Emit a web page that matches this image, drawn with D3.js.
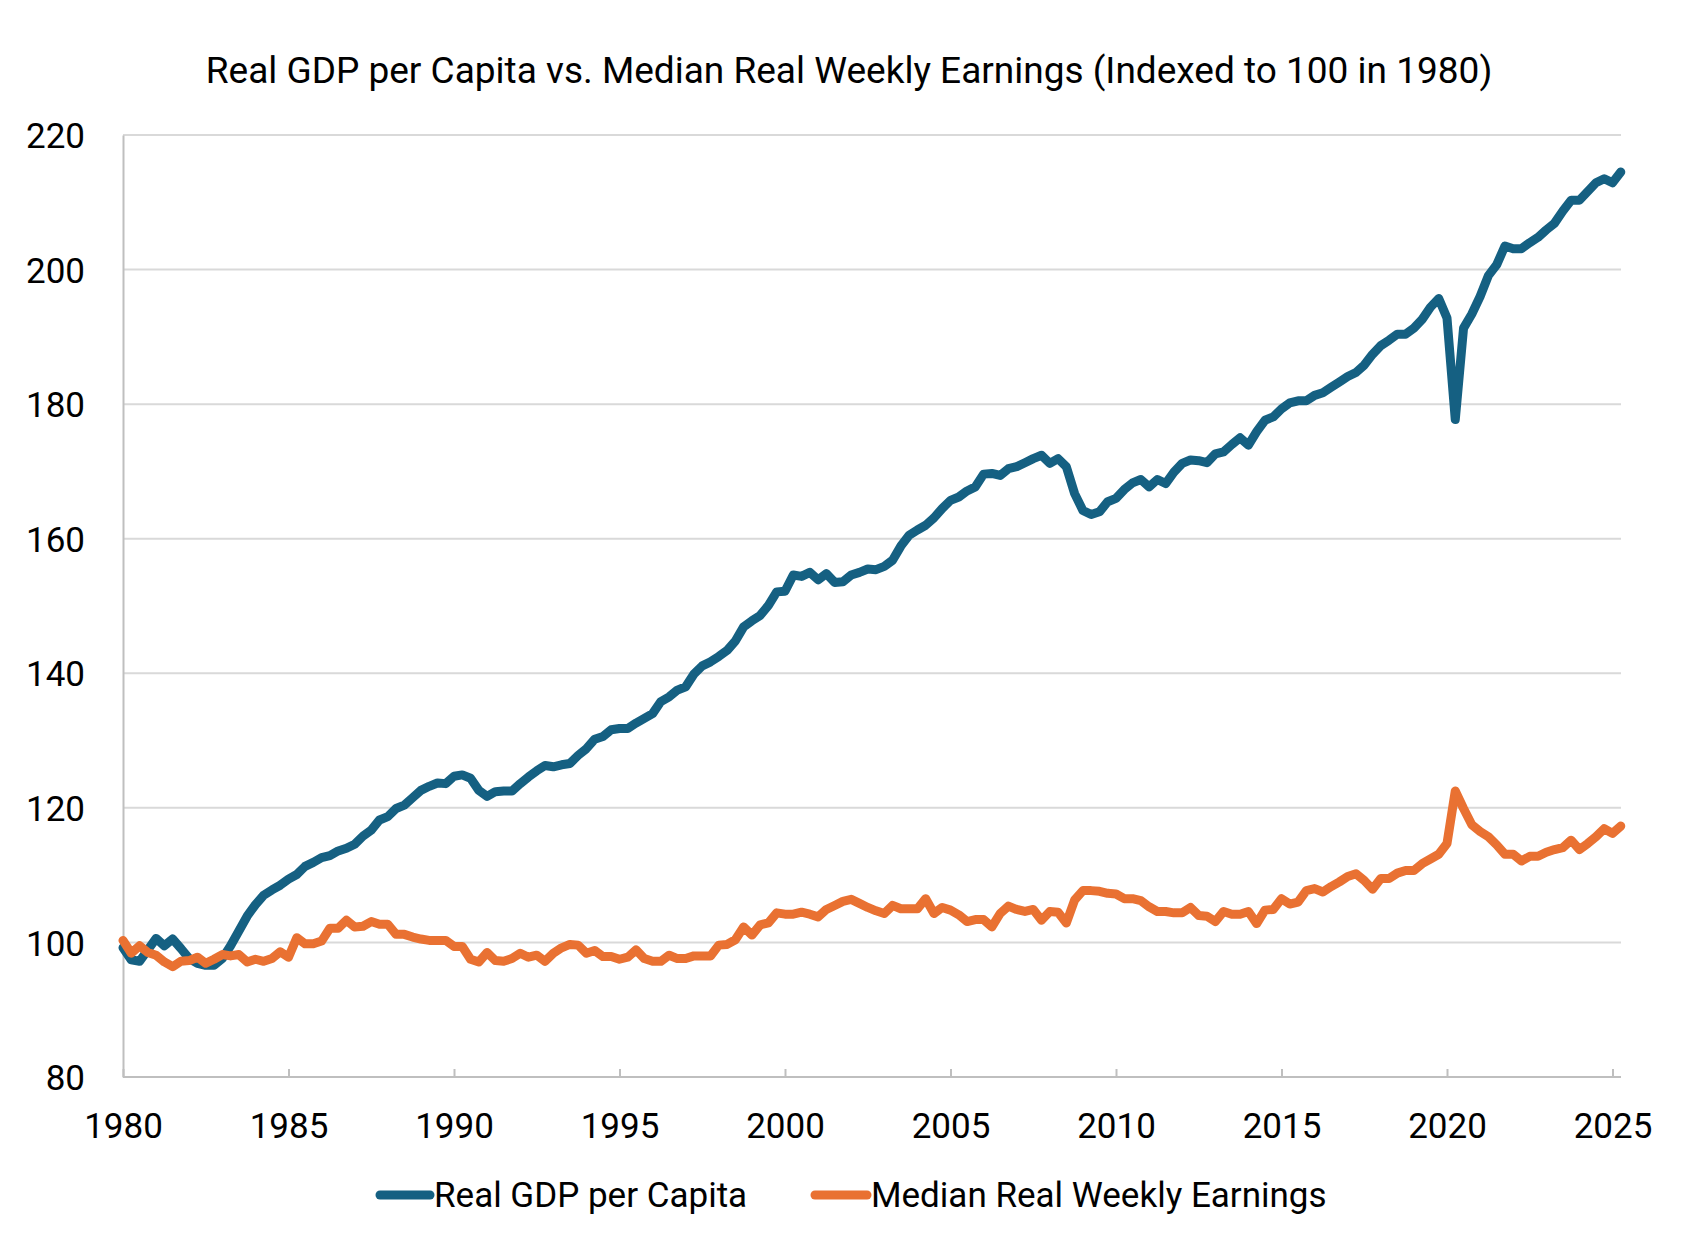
<!DOCTYPE html>
<html>
<head>
<meta charset="utf-8">
<script src="https://cdnjs.cloudflare.com/ajax/libs/d3/7.8.5/d3.min.js"></script>
<style>
  body { margin: 0; background: #fff; }
  text { font-family: Roboto, "Liberation Sans", sans-serif; fill: #000; }
</style>
</head>
<body>
<div id="chart"></div>
<script>
// quarterly values, 1980 Q1 .. 2025 Q2, index 1980 = 100
var startYear = 1980;

var gdpPerCapita = [
  99.2, 97.4, 97.2, 98.9, 100.6, 99.5, 100.5, 99.1, 97.6, 96.9,
  96.6, 96.6, 97.6, 99.5, 101.7, 103.9, 105.6, 107.0, 107.8, 108.5,
  109.4, 110.1, 111.3, 111.9, 112.6, 112.9, 113.6, 114.0, 114.6, 115.8,
  116.7, 118.2, 118.7, 119.9, 120.4, 121.5, 122.6, 123.2, 123.7, 123.6,
  124.7, 124.9, 124.4, 122.6, 121.7, 122.4, 122.5, 122.5, 123.6, 124.6,
  125.5, 126.3, 126.1, 126.4, 126.6, 127.8, 128.8, 130.2, 130.6, 131.6,
  131.8, 131.8, 132.6, 133.3, 134.0, 135.8, 136.5, 137.5, 138.0, 139.9,
  141.1, 141.7, 142.5, 143.4, 144.8, 146.9, 147.8, 148.6, 150.1, 152.1,
  152.2, 154.6, 154.4, 155.0, 153.9, 154.8, 153.5, 153.6, 154.6, 155.0,
  155.5, 155.4, 155.9, 156.8, 158.9, 160.5, 161.3, 162.0, 163.1, 164.5,
  165.7, 166.2, 167.1, 167.7, 169.6, 169.7, 169.4, 170.4, 170.7, 171.3,
  171.9, 172.4, 171.2, 171.9, 170.7, 166.7, 164.2, 163.6, 164.0, 165.5,
  166.0, 167.3, 168.3, 168.8, 167.7, 168.8, 168.2, 169.9, 171.2, 171.7,
  171.6, 171.3, 172.6, 172.9, 174.0, 175.0, 173.9, 175.9, 177.6, 178.1,
  179.3, 180.2, 180.5, 180.5, 181.3, 181.7, 182.5, 183.3, 184.1, 184.7,
  185.8, 187.4, 188.7, 189.5, 190.4, 190.4, 191.3, 192.6, 194.4, 195.7,
  192.8, 177.7, 191.3, 193.4, 196.0, 199.1, 200.7, 203.5, 203.1, 203.1,
  204.0, 204.8, 205.9, 206.9, 208.7, 210.3, 210.3, 211.6, 212.9, 213.5,
  212.9, 214.5
];

var medianEarnings = [
  100.3, 98.4, 99.5, 98.5, 98.1, 97.1, 96.4, 97.2, 97.3, 97.8,
  96.9, 97.5, 98.2, 98.0, 98.2, 97.1, 97.5, 97.2, 97.6, 98.6,
  97.8, 100.7, 99.8, 99.8, 100.2, 102.1, 102.1, 103.3, 102.3, 102.4,
  103.1, 102.7, 102.7, 101.2, 101.2, 100.8, 100.5, 100.3, 100.3, 100.3,
  99.4, 99.4, 97.5, 97.1, 98.5, 97.3, 97.2, 97.6, 98.4, 97.8,
  98.1, 97.2, 98.4, 99.2, 99.7, 99.6, 98.4, 98.8, 97.9, 97.9,
  97.5, 97.8, 98.9, 97.6, 97.2, 97.2, 98.1, 97.6, 97.6, 98.0,
  98.0, 98.0, 99.6, 99.7, 100.4, 102.3, 101.1, 102.6, 102.9, 104.4,
  104.2, 104.2, 104.5, 104.2, 103.8, 104.9, 105.5, 106.1, 106.4, 105.8,
  105.2, 104.7, 104.3, 105.5, 105.0, 105.0, 105.0, 106.5, 104.3, 105.2,
  104.8, 104.1, 103.1, 103.4, 103.4, 102.3, 104.3, 105.4, 104.9, 104.6,
  104.9, 103.3, 104.6, 104.5, 102.9, 106.3, 107.7, 107.7, 107.6, 107.3,
  107.2, 106.5, 106.5, 106.2, 105.3, 104.6, 104.6, 104.4, 104.4, 105.2,
  104.0, 103.9, 103.1, 104.6, 104.2, 104.2, 104.6, 102.8, 104.8, 104.9,
  106.5, 105.7, 106.0, 107.7, 108.0, 107.5, 108.3, 109.0, 109.8, 110.2,
  109.2, 107.9, 109.5, 109.5, 110.3, 110.7, 110.7, 111.7, 112.4, 113.1,
  114.7, 122.5, 119.9, 117.5, 116.5, 115.7, 114.5, 113.1, 113.1, 112.1,
  112.8, 112.8, 113.4, 113.8, 114.1, 115.2, 113.8, 114.7, 115.7, 116.9,
  116.2, 117.3
];

var yTicks = [80, 100, 120, 140, 160, 180, 200, 220];
var xTicks = [1980, 1985, 1990, 1995, 2000, 2005, 2010, 2015, 2020, 2025];

var seriesNames = ["Real GDP per Capita", "Median Real Weekly Earnings"];
var seriesColors = ["#156082", "#E97132"];
var chartTitle = "Real GDP per Capita vs. Median Real Weekly Earnings (Indexed to 100 in 1980)";

var width = 1698, height = 1242;
var plotLeft = 123, plotRight = 1621, plotTop = 135, plotBottom = 1077;

var svg = d3.select("#chart").append("svg")
  .attr("width", width)
  .attr("height", height);

var endYear = startYear + (gdpPerCapita.length - 1) / 4;

var x = d3.scaleLinear()
  .domain([startYear, endYear])
  .range([plotLeft, plotLeft + (endYear - startYear) * 33.1]);

var y = d3.scaleLinear()
  .domain([80, 220])
  .range([plotBottom, plotTop]);

// title
svg.append("text")
  .attr("x", 849)
  .attr("y", 83)
  .attr("text-anchor", "middle")
  .style("font-size", "37px")
  .text(chartTitle);

// gridlines
svg.append("g")
  .attr("class", "grid")
  .selectAll("line")
  .data(yTicks.slice(1)).enter()
  .append("line")
    .attr("x1", plotLeft)
    .attr("x2", plotRight)
    .attr("y1", function(d){return y(d);})
    .attr("y2", function(d){return y(d);})
    .attr("stroke", "#d9d9d9")
    .attr("stroke-width", 2);

// y axis
var yAxis = svg.append("g")
  .attr("transform", "translate(" + plotLeft + ",0)")
  .call(d3.axisLeft(y).tickValues(yTicks).tickSize(0).tickPadding(38));
yAxis.select(".domain").attr("stroke", "#bfbfbf").attr("stroke-width", 2);
yAxis.selectAll("text")
  .style("font-size", "35px")
  .attr("fill", "#000")
  .attr("dy", "0.36em");

// x axis, ticks point inward
var xAxis = svg.append("g")
  .attr("transform", "translate(0," + plotBottom + ")")
  .call(d3.axisBottom(x).tickValues(xTicks).tickFormat(d3.format("d"))
    .tickSizeInner(-8).tickSizeOuter(0).tickPadding(36));
xAxis.select(".domain")
  .attr("d", "M" + plotLeft + ",0H" + plotRight)
  .attr("stroke", "#bfbfbf").attr("stroke-width", 2);
xAxis.selectAll(".tick line").attr("stroke", "#bfbfbf").attr("stroke-width", 2);
xAxis.selectAll("text")
  .style("font-size", "35px")
  .attr("fill", "#000")
  .attr("dy", "0.71em");

// lines
var line = d3.line()
  .x(function(d, i){return x(startYear + i / 4);})
  .y(function(d){return y(d);});

var allSeries = [gdpPerCapita, medianEarnings];

svg.append("g")
  .selectAll("path")
  .data(allSeries).enter()
  .append("path")
    .attr("d", function(d){return line(d);})
    .attr("fill", "none")
    .attr("stroke", function(d, i){return seriesColors[i];})
    .attr("stroke-width", 9)
    .attr("stroke-linejoin", "round")
    .attr("stroke-linecap", "round");

// legend
var legendY = 1195;
var legendItems = [{x: 380, w: 50}, {x: 815, w: 52}];
var legend = svg.append("g").attr("class", "legend");
seriesNames.forEach(function(name, i){
  legend.append("line")
    .attr("x1", legendItems[i].x)
    .attr("x2", legendItems[i].x + legendItems[i].w)
    .attr("y1", legendY)
    .attr("y2", legendY)
    .attr("stroke", seriesColors[i])
    .attr("stroke-width", 9)
    .attr("stroke-linecap", "round");
  legend.append("text")
    .attr("x", legendItems[i].x + legendItems[i].w + 4)
    .attr("y", legendY + 12)
    .style("font-size", "35px")
    .text(name);
});
</script>
</body>
</html>
